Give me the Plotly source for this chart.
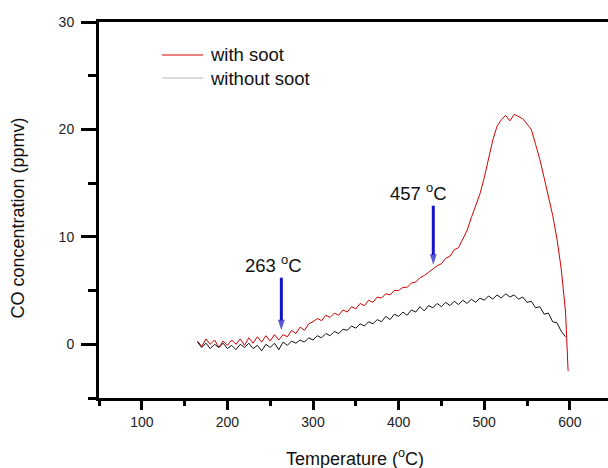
import plotly.graph_objects as go

# ---- data ----
temp_soot = list(range(165, 600, 5)) + [598]
co_soot = [
    0.3, -0.2, 0.5, 0.0, 0.4, -0.3, 0.3, -0.1, 0.4, 0.0,
    0.5, -0.1, 0.6, 0.1, 0.7, 0.2, 0.8, 0.3, 0.9, 0.4,
    0.9, 0.7, 1.3, 1.0, 1.6, 1.3, 1.9, 2.1, 2.4, 2.2,
    2.7, 2.5, 2.9, 2.7, 3.2, 3.0, 3.5, 3.3, 3.8, 3.6,
    4.1, 3.9, 4.4, 4.3, 4.7, 4.6, 5.0, 5.0, 5.3, 5.3,
    5.7, 5.8, 6.2, 6.4, 6.7, 7.0, 7.3, 7.5, 8.0, 8.2,
    8.8, 9.0, 9.8, 10.6, 11.8, 12.9, 14.0, 15.5, 17.2, 19.0,
    20.3, 20.9, 21.3, 20.8, 21.4, 21.2, 21.0, 20.5, 20.0, 18.6,
    17.2, 15.5, 13.8, 12.0, 9.8, 7.0, 3.0, -2.5,
]

temp_nosoot = list(range(165, 600, 5))
co_nosoot = [
    0.2, -0.3, 0.1, -0.4, 0.0, -0.3, 0.1, -0.4, -0.1, -0.5,
    0.0, -0.3, 0.1, -0.4, -0.1, -0.6, 0.0, -0.3, 0.1, -0.5,
    0.2, -0.1, 0.3, 0.1, 0.4, 0.2, 0.6, 0.4, 0.8, 0.6,
    1.0, 0.8, 1.2, 1.0, 1.4, 1.3, 1.7, 1.5, 1.9, 1.7,
    2.1, 1.9, 2.3, 2.1, 2.6, 2.3, 2.8, 2.6, 3.0, 2.7,
    3.2, 3.0, 3.5, 3.1, 3.6, 3.4, 3.8, 3.5, 3.9, 3.6,
    4.0, 3.7, 4.1, 3.8, 4.2, 3.9, 4.3, 4.1, 4.5, 4.2,
    4.6, 4.3, 4.7, 4.4, 4.6, 4.2, 4.4, 3.9, 4.0, 3.4,
    3.5, 2.8, 2.9, 2.1, 2.0, 1.2, 0.7,
]

x_ticks = [100, 200, 300, 400, 500, 600]
y_ticks = [0, 10, 20, 30]

# onset markers: label, arrow x, arrow tip y, arrow tail y, label x, label y
marks = [
    ("263", 263, 1.3, 6.2, 253.3, 7.44),
    ("457", 440.5, 7.4, 12.9, 422.7, 14.14),
]

RED = "#d40000"
BLUE = "#1414c8"
FONT = "Liberation Sans, Arial, sans-serif"

fig = go.Figure()
fig.add_trace(go.Scatter(x=temp_soot, y=co_soot, mode="lines",
                         line=dict(color=RED, width=1), name="with soot",
                         showlegend=False))
fig.add_trace(go.Scatter(x=temp_nosoot, y=co_nosoot, mode="lines",
                         line=dict(color="#111111", width=1), name="without soot",
                         showlegend=False))

# arrows as line + arrow marker
for lab, ax_x, tip_y, tail_y, lx, ly in marks:
    fig.add_trace(go.Scatter(
        x=[ax_x, ax_x], y=[tail_y, tip_y], mode="lines+markers",
        line=dict(color=BLUE, width=3),
        marker=dict(symbol=["circle", "arrow"], size=[0, 11], color=BLUE,
                    angleref="previous", line=dict(width=0)),
        showlegend=False, hoverinfo="skip"))

# manual legend (lines + text) in paper coordinates
W, L, T, B = 509.0, 99.0, 22.0, 398.0
def px(x):
    return (x - L) / W
def py(y):
    return (B - y) / (B - T)

legend = [("with soot", RED, 55), ("without soot", "#b4b4b4", 78)]
shapes = []
annotations = []
for label, col, yy in legend:
    shapes.append(dict(type="line", xref="paper", yref="paper",
                       x0=px(162), x1=px(203), y0=py(yy), y1=py(yy),
                       line=dict(color=col, width=1)))
    annotations.append(dict(xref="paper", yref="paper", x=px(208), y=py(yy),
                            text=label, showarrow=False, xanchor="left",
                            yanchor="middle",
                            font=dict(family=FONT, size=18.5, color="#111111")))

for lab, ax_x, tip_y, tail_y, lx, ly in marks:
    annotations.append(dict(x=lx, y=ly, xref="x", yref="y",
                            text=lab + " <sup>o</sup>C", showarrow=False,
                            font=dict(family=FONT, size=18.5, color="#111111")))

# axis titles
annotations.append(dict(xref="paper", yref="paper", x=px(355), y=py(457),
                        text="Temperature (<sup>o</sup>C)", showarrow=False,
                        xanchor="center", yanchor="middle",
                        font=dict(family=FONT, size=18, color="#111111")))
annotations.append(dict(xref="paper", yref="paper", x=px(17.5), y=py(218),
                        text="CO concentration (ppmv)", showarrow=False,
                        textangle=-90, xanchor="center", yanchor="middle",
                        font=dict(family=FONT, size=18, color="#111111")))

fig.update_layout(
    width=608, height=468,
    margin=dict(l=99, r=0, t=22, b=70, pad=0),
    paper_bgcolor="white", plot_bgcolor="white",
    font=dict(family=FONT, color="#111111"),
    shapes=shapes, annotations=annotations,
    showlegend=False,
)
fig.update_xaxes(
    range=[50, 644.6], tickvals=x_ticks, showgrid=False, zeroline=False,
    showline=True, linecolor="black", linewidth=3, mirror=True,
    ticks="outside", ticklen=9, tickwidth=3, tickcolor="black",
    tickfont=dict(family=FONT, size=14, color="#222222"),
    minor=dict(tick0=50, dtick=50, ticks="outside", ticklen=5, tickwidth=3,
               tickcolor="black", showgrid=False),
)
fig.update_yaxes(
    range=[-5, 30], tickvals=y_ticks, showgrid=False, zeroline=False,
    showline=True, linecolor="black", linewidth=3, mirror=False,
    ticks="outside", ticklen=15, tickwidth=3, tickcolor="black",
    ticklabelstandoff=4,
    tickfont=dict(family=FONT, size=14, color="#222222"),
    minor=dict(tick0=-5, dtick=5, ticks="outside", ticklen=8, tickwidth=3,
               tickcolor="black", showgrid=False),
)

fig.write_html("out.html")
